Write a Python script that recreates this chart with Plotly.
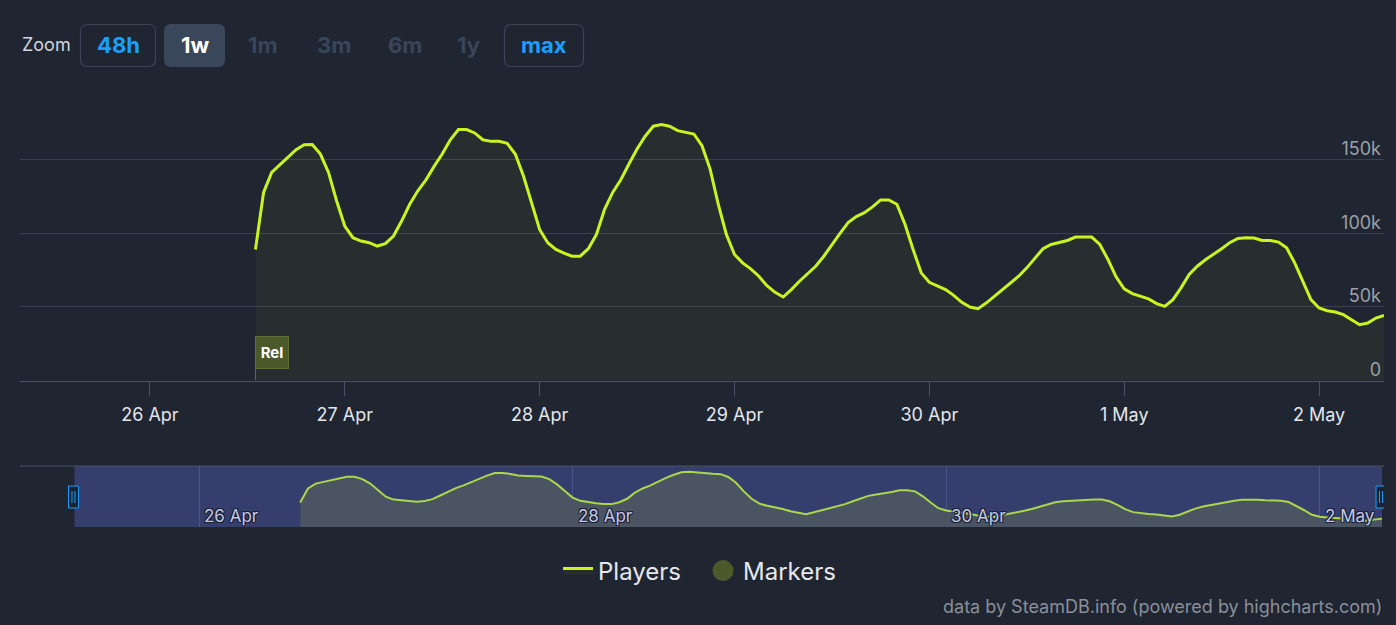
import plotly.graph_objects as go
import pandas as pd

W, H = 1396, 625
BG = "#1f2531"

# ---------------- data ----------------
start_time = "2025-04-26 13:00"
players_k = [
    89.0, 127.7, 141.3, 146.3, 151.5, 156.7, 160.1, 160.3, 153.8, 141.3,
    121.9, 104.9, 97.0, 94.7, 93.6, 91.3, 92.9, 98.1, 108.3, 119.7,
    128.8, 136.3, 145.4, 153.8, 163.5, 170.4, 170.4, 168.1, 163.5, 162.4,
    162.4, 161.1, 153.8, 139.0, 120.9, 102.6, 93.6, 89.0, 86.5, 84.4,
    84.4, 89.5, 99.2, 116.3, 127.7, 136.3, 147.0, 157.2, 165.9, 172.7,
    173.8, 172.7, 169.7, 168.6, 167.4, 159.5, 143.6, 119.7, 99.2, 85.6,
    79.9, 75.8, 70.8, 64.4, 59.9, 56.7, 61.7, 67.4, 72.6, 77.6,
    84.4, 92.4, 99.9, 107.2, 111.3, 114.0, 117.9, 122.6, 122.6, 119.7,
    106.1, 89.0, 73.1, 66.7, 64.0, 61.7, 57.8, 53.1, 49.9, 48.8,
    52.6, 57.2, 61.2, 65.8, 70.8, 76.5, 82.7, 89.5, 92.4, 93.6,
    95.1, 97.4, 97.5, 97.4, 92.4, 82.2, 70.4, 62.2, 59.0, 57.2,
    55.4, 52.2, 50.3, 54.9, 62.9, 72.0, 77.6, 82.0, 85.6, 89.5,
    93.6, 96.5, 97.0, 96.8, 95.1, 95.1, 94.0, 90.2, 79.9, 67.4,
    54.9, 49.2, 47.4, 46.5, 44.7, 41.3, 37.9, 39.0, 42.4, 44.2,
]
players = [round(v * 1000) for v in players_k]
times = pd.date_range(start_time, periods=len(players), freq="h")

release_time = start_time
release_label = "Rel"

main_range = ["2025-04-25 08:00", "2025-05-02 08:00"]
nav_range = ["2025-04-25 01:00", "2025-05-02 08:15"]
nav_tick_dates = ["2025-04-26", "2025-04-28", "2025-04-30", "2025-05-02"]
nav_tick_labels = ["26 Apr", "28 Apr", "30 Apr", "2 May"]
y_ticks = [0, 50000, 100000, 150000, 200000]
y_ticktext = ["0", "50k", "100k", "150k", ""]

zoom_labels = ["48h", "1w", "1m", "3m", "6m", "1y", "max"]
zoom_states = ["outline", "active", "off", "off", "off", "off", "outline"]

# ---------------- helpers (pixel -> paper) ----------------
def px(x):
    return x / W

def py(y):
    return 1 - y / H

def rrect(x0, y0, x1, y1, r):
    pts = [
        f"M {px(x0 + r)} {py(y0)}",
        f"L {px(x1 - r)} {py(y0)}",
        f"Q {px(x1)} {py(y0)} {px(x1)} {py(y0 + r)}",
        f"L {px(x1)} {py(y1 - r)}",
        f"Q {px(x1)} {py(y1)} {px(x1 - r)} {py(y1)}",
        f"L {px(x0 + r)} {py(y1)}",
        f"Q {px(x0)} {py(y1)} {px(x0)} {py(y1 - r)}",
        f"L {px(x0)} {py(y0 + r)}",
        f"Q {px(x0)} {py(y0)} {px(x0 + r)} {py(y0)}",
        "Z",
    ]
    return " ".join(pts)

FONT = "Inter, 'Noto Sans', sans-serif"
LINE = "#c8f520"
SHADOW = "1px 1px 0 #1b2030, -1px -1px 0 #1b2030, 1px -1px 0 #1b2030, -1px 1px 0 #1b2030"

fig = go.Figure()

fig.add_trace(go.Scatter(
    x=times, y=players, mode="lines", name="Players",
    line=dict(color=LINE, width=3),
    fill="tozeroy", fillcolor="rgba(200,245,32,0.045)",
    xaxis="x", yaxis="y", hoverinfo="skip",
))
fig.add_trace(go.Scatter(
    x=[None], y=[None], mode="markers", name="Markers",
    marker=dict(color="#4b5a2b", size=18, line=dict(width=5, color="#4b5a2b")),
    xaxis="x", yaxis="y",
))
fig.add_trace(go.Scatter(
    x=times, y=players, mode="lines", showlegend=False,
    line=dict(color="#acd74a", width=2),
    fill="tozeroy", fillcolor="#4a5462",
    xaxis="x2", yaxis="y2", hoverinfo="skip",
))

x_dom = [px(20), px(1384)]

shapes = []
annotations = []

# navigator selection mask
shapes.append(dict(type="rect", xref="x2", yref="paper",
                   x0=main_range[0], x1=main_range[1],
                   y0=py(527), y1=py(466),
                   fillcolor="#353e6d", line=dict(width=0), layer="below"))
# navigator outline top
shapes.append(dict(type="line", xref="paper", yref="paper",
                   x0=px(20), x1=px(1384), y0=py(466), y1=py(466),
                   line=dict(color="#4a5266", width=1)))
# navigator handles
for t in main_range:
    shapes.append(dict(type="rect", xref="x2", yref="paper",
                       xsizemode="pixel", xanchor=t, x0=-6, x1=4,
                       y0=py(508), y1=py(486),
                       fillcolor="#1c2230", line=dict(color="#1a9fff", width=1)))
    for dx in (-2.5, 0.5):
        shapes.append(dict(type="line", xref="x2", yref="paper",
                           xsizemode="pixel", xanchor=t, x0=dx, x1=dx,
                           y0=py(503), y1=py(491),
                           line=dict(color="#1a9fff", width=1)))

# navigator date labels
for d, lab in zip(nav_tick_dates, nav_tick_labels):
    annotations.append(dict(x=d, xref="x2", xanchor="left", xshift=3,
                            y=py(516), yref="paper", yanchor="middle",
                            text=lab, showarrow=False,
                            font=dict(family=FONT, size=17, color="#c3c8ea", shadow=SHADOW)))

# release flag stem
shapes.append(dict(type="line", xref="x", yref="y",
                   x0=release_time, x1=release_time,
                   ysizemode="pixel", yanchor=0, y0=0, y1=12,
                   line=dict(color="#5d6e36", width=1)))
annotations.append(dict(
    x=release_time, xref="x", xanchor="left",
    y=py(352.5), yref="paper", yanchor="middle",
    text=f"<b>{release_label}</b>", showarrow=False,
    font=dict(family=FONT, size=15, color="#ffffff"),
    bgcolor="#4b5a2b", bordercolor="#5d6e36", borderwidth=1,
    width=30, height=29, borderpad=1, align="center",
))

# zoom buttons
annotations.append(dict(x=px(20), y=py(45), xref="paper", yref="paper",
                        xanchor="left", yanchor="middle", showarrow=False,
                        text="Zoom", font=dict(family=FONT, size=18, color="#d3d7df")))
btn_boxes = [(80, 156), (164, 225), (233, 293), (303, 365), (374, 436), (447, 489), (504, 584)]
for lab, st, (bx0, bx1) in zip(zoom_labels, zoom_states, btn_boxes):
    if st == "outline":
        shapes.append(dict(type="path", xref="paper", yref="paper",
                           path=rrect(bx0 + 0.5, 24.5, bx1 - 0.5, 66.5, 7),
                           line=dict(color="#3b4557", width=1.2), fillcolor="rgba(0,0,0,0)"))
        col = "#1a9fff"
    elif st == "active":
        shapes.append(dict(type="path", xref="paper", yref="paper",
                           path=rrect(bx0, 24, bx1, 67, 7),
                           line=dict(width=0), fillcolor="#3a4659"))
        col = "#ffffff"
    else:
        col = "#39465a"
    annotations.append(dict(x=px((bx0 + bx1) / 2), y=py(45.5), xref="paper", yref="paper",
                            xanchor="center", yanchor="middle", showarrow=False,
                            text=f"<b>{lab}</b>", font=dict(family=FONT, size=22, color=col)))

# credits
annotations.append(dict(x=px(1384), y=py(606), xref="paper", yref="paper",
                        xanchor="right", yanchor="middle", showarrow=False,
                        text="data by SteamDB.info (powered by highcharts.com)",
                        font=dict(family=FONT, size=18, color="#8a8f99")))

fig.update_layout(
    width=W, height=H,
    margin=dict(l=0, r=0, t=0, b=0),
    paper_bgcolor=BG, plot_bgcolor=BG,
    font=dict(family=FONT, color="#e6e6e6"),
    showlegend=True,
    legend=dict(orientation="h", x=px(558), xanchor="left",
                y=py(571), yanchor="middle",
                font=dict(family=FONT, size=24, color="#e6e8ec"),
                bgcolor="rgba(0,0,0,0)", entrywidth=100, entrywidthmode="pixels"),
    xaxis=dict(domain=x_dom, range=main_range, type="date",
               tick0="2025-04-26", dtick=86400000, tickformat="%-d %b",
               showgrid=False, zeroline=False,
               showline=True, linecolor="#4a5266", linewidth=1,
               ticks="outside", ticklen=14, tickcolor="#4a5266", tickwidth=1,
               ticklabelstandoff=4,
               tickfont=dict(family=FONT, size=18, color="#e4e6ea"),
               anchor="y"),
    yaxis=dict(domain=[py(380.5), py(86)], range=[0, 200000],
               side="right", tickvals=y_ticks, ticktext=y_ticktext,
               ticklabelposition="inside", ticklabelshift=-11, ticklabelstandoff=0,
               showgrid=True, gridcolor="#394150", gridwidth=1,
               zeroline=False, showline=False,
               tickfont=dict(family=FONT, size=18, color="#9ba0a9"),
               anchor="x"),
    xaxis2=dict(domain=x_dom, range=nav_range, type="date",
                tickvals=nav_tick_dates, showticklabels=False,
                showgrid=True, gridcolor="#4c5686", gridwidth=1,
                zeroline=False, showline=False, ticks="",
                anchor="y2"),
    yaxis2=dict(domain=[py(527), py(466)], range=[21000, 190000],
                visible=False, showgrid=False, anchor="x2"),
    shapes=shapes,
    annotations=annotations,
)

fig.write_html("out.html", config={"displayModeBar": False},
               post_script="document.body.style.margin='0';document.body.style.background='" + BG + "';")
